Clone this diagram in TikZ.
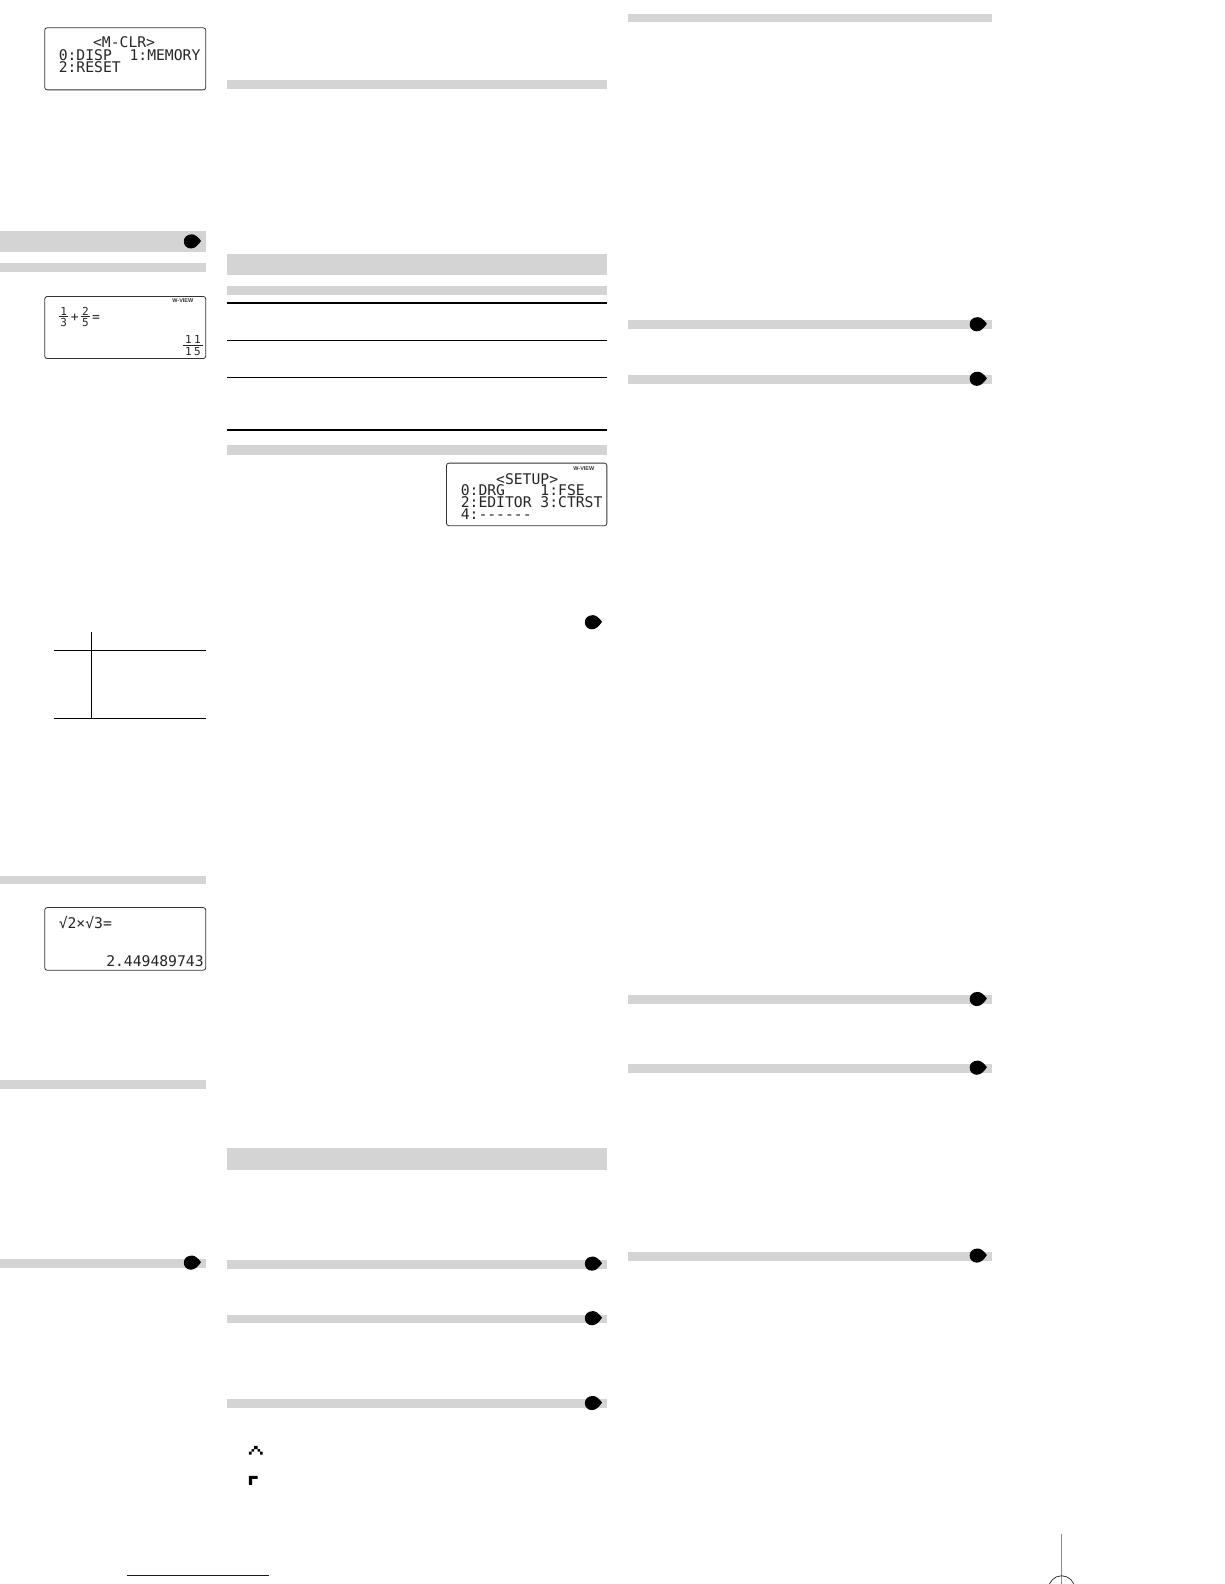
\documentclass[tikz,border=0pt]{standalone}
\usepackage{fontspec}
\newfontfamily\lcd{DejaVu Sans Mono}
\newfontfamily\lcdb{Liberation Sans}
\definecolor{bandgray}{gray}{0.83}
\definecolor{linkblue}{rgb}{0.05,0.05,0.55}
\tikzset{
  grayband/.style={fill=bandgray,draw=none},
  screen/.style={draw=black!80,line width=0.8pt,rounded corners=2.5pt,fill=white},
  lcdtext/.style={font=\lcd\fontsize{14.7}{12}\selectfont,inner sep=0pt,anchor=base west,text=black!85},
  lcdsmall/.style={font=\lcd\fontsize{11}{9}\selectfont,inner sep=0pt,anchor=base,text=black!85},
  lcdmid/.style={font=\lcd\fontsize{13}{9}\selectfont,inner sep=0pt,anchor=base,text=black!85},
  wview/.style={font=\lcdb\bfseries\fontsize{5.5}{5}\selectfont,inner sep=0pt,text=black!80},
  rule/.style={draw=black,line width=0.9pt},
  thickrule/.style={draw=black,line width=2pt},
  fracbar/.style={draw=black!85,line width=0.9pt},
}
\newcommand{\leafat}[2]{\fill[black,shift={(#1,#2)}] (9,-0.5) .. controls (6,-4.5) and (3,-7) .. (0,-7) .. controls (-5,-7) and (-8,-4) .. (-8,0) .. controls (-8,4) and (-5,7) .. (-1,7) .. controls (3,7) and (6,4) .. (9,-0.5) -- cycle;}
\newcommand{\band}[4]{\fill[grayband] (#1,#2) rectangle (#3,#4);}
\begin{document}
\begin{tikzpicture}[x=1.0101pt,y=-1.0101pt]
\useasboundingbox (0,0) rectangle (1211.76,1568.16);
\fill[white] (0,0) rectangle (1211.76,1568.16);
% left column bands
\band{0}{229}{204}{249}
\band{0}{260}{204}{269}
\band{0}{867}{204}{875}
\band{0}{1069}{204}{1078}
\band{0}{1246}{204}{1255}
% middle column bands
\band{225}{79}{601}{88}
\band{225}{251}{601}{272}
\band{225}{283}{601}{292}
\band{225}{440.5}{601}{450}
\band{225}{1136.5}{601}{1158}
\band{225}{1247}{601}{1256}
\band{225}{1301.5}{601}{1310}
\band{225}{1385}{601}{1394}
% right column bands
\band{622}{14}{982}{22}
\band{622}{317}{982}{326}
\band{622}{371}{982}{380}
\band{622}{985}{982}{994}
\band{622}{1053}{982}{1062}
\band{622}{1239}{982}{1248}
% leaf marks
\leafat{190}{239}
\leafat{190}{1250}
\leafat{587}{616}
\leafat{587}{1251}
\leafat{587}{1305}
\leafat{587}{1389}
\leafat{968}{321}
\leafat{968}{375}
\leafat{968}{989}
\leafat{968}{1057}
\leafat{968}{1243}
% rules
\draw[thickrule] (225,299.5) -- (601,299.5);
\draw[rule] (225,337.5) -- (601,337.5);
\draw[rule] (225,373.5) -- (601,373.5);
\draw[thickrule] (225,425.5) -- (601,425.5);
% small table
\draw[rule] (90.5,626) -- (90.5,711);
\draw[rule] (53,644) -- (204,644);
\draw[rule] (53,711) -- (204,711);
% screen 1
\draw[screen] (44.3,27.5) rectangle (203.7,89);
\node[lcdtext] (a1) at (92,47.5) {<M-CLR>};
\node[lcdtext] (a2) at (58,59.5) {0:DISP\ \ 1:MEMORY};
\node[lcdtext] (a3) at (58,71.5) {2:RESET};
% screen 2
\draw[screen] (44.3,293.5) rectangle (203.7,355);
\node[wview] (b0) at (181,298) {W-VIEW};
\node[lcdsmall] (b1) at (63,312) {1};
\node[lcdsmall] (b2) at (63,323.5) {3};
\draw[fracbar] (58.5,313.5) -- (67.5,313.5);
\node[lcdmid] (b3) at (74,318) {+};
\node[lcdsmall] (b4) at (84.5,312) {2};
\node[lcdsmall] (b5) at (84.5,323.5) {5};
\draw[fracbar] (80,313.5) -- (89,313.5);
\node[lcdmid] (b6) at (95,318) {=};
\node[lcdsmall] (b7) at (191,340) {1\hspace{2.5pt}1};
\node[lcdsmall] (b8) at (191,352) {1\hspace{2.5pt}5};
\draw[fracbar] (181,342) -- (200.5,342);
% screen 3
\draw[screen] (44.3,898.5) rectangle (203.7,960.5);
\node[lcdtext] (c1) at (58,919) {√2×√3=};
\node[lcdtext] (c2) at (105,956.5) {2.449489743};
% screen 4
\draw[screen] (442,458.5) rectangle (600.8,520.5);
\node[wview] (d0) at (578,463.5) {W-VIEW};
\node[lcdtext] (d1) at (491,479.5) {<SETUP>};
\node[lcdtext] (d2) at (456,491) {0:DRG\ \ \ \ 1:FSE};
\node[lcdtext] (d3) at (456,502.8) {2:EDITOR 3:CTRST};
\node[lcdtext] (d4) at (456,514) {4:------};
% pixel glyphs
\fill[black] (246.5,1437) -- (249,1437) -- (249,1434.5) -- (251.5,1434.5) -- (251.5,1431.5) -- (255,1431.5) -- (255,1434.5) -- (257.5,1434.5) -- (257.5,1437) -- (260,1437) -- (260,1440) -- (257.5,1440) -- (257.5,1437) -- (255,1437) -- (255,1434.5) -- (251.5,1434.5) -- (251.5,1437) -- (249,1437) -- (249,1440) -- (246.5,1440) -- cycle;
\fill[black] (246.5,1461) -- (255,1461) -- (255,1464) -- (249.5,1464) -- (249.5,1470) -- (246.5,1470) -- cycle;
% bottom link line
\draw[linkblue,line width=1.1pt] (126,1559.4) -- (266.5,1559.4);
% registration mark
\draw[black!45,line width=0.9pt] (1051,1519) -- (1051,1568.16);
\draw[black!85,line width=0.7pt] (1051,1573) circle (13);
\end{tikzpicture}
\end{document}
